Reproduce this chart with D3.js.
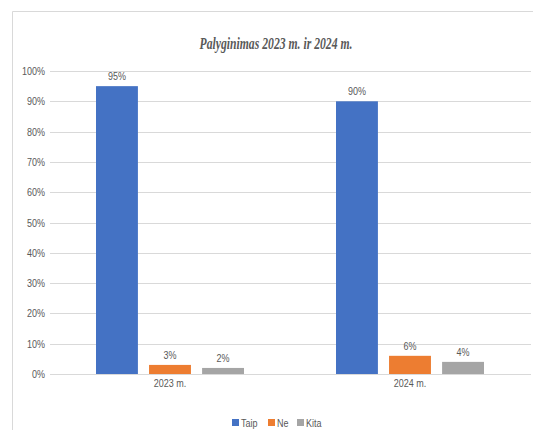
<!DOCTYPE html>
<html><head><meta charset="utf-8">
<script src="https://cdn.jsdelivr.net/npm/d3@7"></script>
<style>
html,body{margin:0;padding:0;background:#fff;}
</style></head>
<body><svg id="c" width="533" height="430"></svg>
<script>
const title = "Palyginimas 2023 m. ir 2024 m.";
const categories = ["2023 m.", "2024 m."];
const seriesNames = ["Taip", "Ne", "Kita"];
const taip = [0.95, 0.90];
const ne = [0.03, 0.06];
const kita = [0.02, 0.04];
const yTicks = [0, 0.1, 0.2, 0.3, 0.4, 0.5, 0.6, 0.7, 0.8, 0.9, 1.0];
const colors = ["#4472C4", "#ED7D31", "#A5A5A5"];

(function () {
const seriesValues = [taip, ne, kita];
const svg = d3.select("#c");
const textColor = "#595959";
const FONT = '"Liberation Sans Narrow","Arial Narrow","Liberation Sans",sans-serif';

// measure condensation factor so "100%" at 11px is ~23px wide (Calibri-like)
const probe = svg.append("text").style("font-family", FONT).style("font-size", "11px").text("100%");
const kx = Math.min(1, 23 / probe.node().getComputedTextLength());
probe.remove();
function condense(sel) {
  sel.each(function () {
    const w = this.getComputedTextLength();
    if (kx < 0.99) d3.select(this).attr("textLength", w * kx).attr("lengthAdjust", "spacingAndGlyphs");
  });
}

// frame
svg.append("path").attr("d", "M12.5,430 L12.5,11.5 L533,11.5")
  .attr("fill", "none").attr("stroke", "#d9d9d9").attr("stroke-width", 1);

const mLeft = 50, mRight = 531, mTop = 71, mBottom = 374;
const y = d3.scaleLinear().domain([0, 1]).range([mBottom, mTop]);
const x0 = d3.scaleBand().domain(categories).range([50, 530]).padding(0);
const x1 = d3.scaleBand().domain(seriesNames).range([-74, 74]).paddingInner(0.21).paddingOuter(0);

// gridlines
svg.append("g").selectAll("line").data(yTicks).join("line")
  .attr("x1", mLeft).attr("x2", mRight)
  .attr("y1", d => Math.round(y(d)) + 0.5).attr("y2", d => Math.round(y(d)) + 0.5)
  .attr("stroke", "#d9d9d9").attr("stroke-width", 1);

// y axis labels
const yAxis = d3.axisLeft(y).tickValues(yTicks).tickFormat(d3.format(".0%")).tickSize(0).tickPadding(0);
const ya = svg.append("g").attr("transform", `translate(45,0)`).call(yAxis);
ya.select(".domain").remove();
ya.attr("font-family", null).attr("font-size", null);
ya.selectAll("text").attr("fill", textColor).style("font-size", "11px").style("font-family", FONT)
  .call(condense);

// bars
const groups = svg.append("g").selectAll("g").data(categories).join("g")
  .attr("transform", c => `translate(${x0(c) + x0.bandwidth() / 2},0)`);

groups.each(function(c, ci) {
  const g = d3.select(this);
  seriesNames.forEach((s, si) => {
    const v = seriesValues[si][ci];
    g.append("rect")
      .attr("x", x1(s)).attr("width", x1.bandwidth())
      .attr("y", y(v)).attr("height", y(0) - y(v))
      .attr("fill", colors[si]);
    g.append("text")
      .attr("x", x1(s) + x1.bandwidth() / 2).attr("y", y(v) - 6)
      .attr("text-anchor", "middle").attr("fill", textColor)
      .style("font-size", "11px").style("font-family", FONT)
      .text(d3.format(".0%")(v))
      .call(condense);
  });
});

// category labels
const xAxis = d3.axisBottom(x0).tickSize(0).tickPadding(0);
const xa = svg.append("g").attr("transform", `translate(0,${mBottom + 5})`).call(xAxis);
xa.select(".domain").remove();
xa.attr("font-family", null).attr("font-size", null);
xa.selectAll("text").attr("fill", textColor).style("font-size", "11px").style("font-family", FONT)
  .attr("dy", "0.71em")
  .call(condense);

// title
svg.append("text").attr("x", 276).attr("y", 49).attr("text-anchor", "middle")
  .attr("fill", "#595959")
  .style("font-family", '"Liberation Serif","DejaVu Serif",serif')
  .style("font-style", "italic").style("font-weight", "bold").style("font-size", "16px")
  .attr("textLength", 153).attr("lengthAdjust", "spacingAndGlyphs")
  .text(title);

// legend
const legendX = [232, 268, 297];
const lg = svg.append("g").selectAll("g").data(seriesNames).join("g")
  .attr("transform", (d, i) => `translate(${legendX[i]},419)`);
lg.append("rect").attr("width", 7).attr("height", 7).attr("fill", (d, i) => colors[i]);
lg.append("text").attr("x", 9).attr("y", 8).attr("fill", textColor)
  .style("font-size", "11px").style("font-family", FONT).text(d => d)
  .call(condense);
})();
</script></body></html>
